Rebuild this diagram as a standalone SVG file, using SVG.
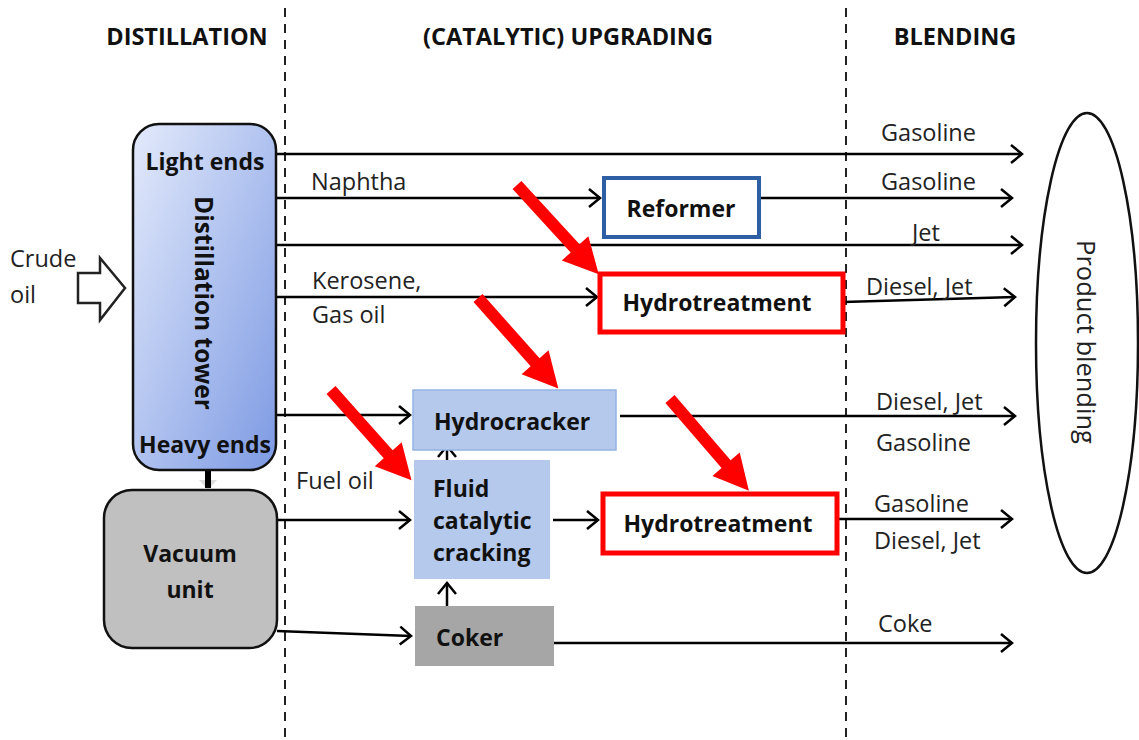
<svg xmlns="http://www.w3.org/2000/svg" width="1139" height="740" viewBox="0 0 1139 740">
<style>
.hdr{font-family:"Open Sans","Liberation Sans",sans-serif;font-weight:bold;font-size:23.5px;fill:#111;text-anchor:middle}
.b{font-family:"Open Sans","Liberation Sans",sans-serif;font-weight:bold;font-size:23px;fill:#111}
.r{font-family:"Open Sans","Liberation Sans",sans-serif;font-size:23.5px;fill:#222}
.ln{stroke:#000;stroke-width:2.5;fill:none;marker-end:url(#ah)}
.dash{stroke:#222;stroke-width:2;stroke-dasharray:9,7;fill:none}
</style>
<defs>
<marker id="ah" markerWidth="16" markerHeight="22" refX="13" refY="11" orient="auto" markerUnits="userSpaceOnUse">
<path d="M2,2 L13,11 L2,20" fill="none" stroke="#000" stroke-width="2.5"/>
</marker>
<linearGradient id="tg" x1="0" y1="0" x2="1" y2="1">
<stop offset="0" stop-color="#e3eafb"/>
<stop offset="1" stop-color="#7d9ae3"/>
</linearGradient>
<path id="ra" d="M0,-6 L86,-6 L86,-18 L121,0 L86,18 L86,6 L0,6 Z" fill="#ff0000"/>
</defs>
<rect width="1139" height="740" fill="#fff"/>
<g id="dividers">
<line class="dash" x1="285" y1="8" x2="285" y2="738"/>
<line class="dash" x1="846" y1="8" x2="846" y2="738"/>
</g>
<g id="headers">
<text class="hdr" x="187" y="45">DISTILLATION</text>
<text class="hdr" x="568" y="45">(CATALYTIC) UPGRADING</text>
<text class="hdr" x="955" y="45">BLENDING</text>
</g>
<g id="crude">
<text class="r" x="10" y="267">Crude</text>
<text class="r" x="10" y="303">oil</text>
<path d="M78,273 L100,273 L100,258 L125,288 L100,320 L100,303 L78,303 Z" fill="#fff" stroke="#222" stroke-width="2.5"/>
</g>
<g id="connectors">
<line class="ln" x1="276" y1="154" x2="1022" y2="154"/>
<line class="ln" x1="276" y1="198" x2="600" y2="198"/>
<line class="ln" x1="759" y1="198" x2="1012" y2="198"/>
<line class="ln" x1="276" y1="245" x2="1022" y2="245"/>
<line class="ln" x1="276" y1="297" x2="597" y2="297"/>
<line class="ln" x1="843" y1="302" x2="1015" y2="297"/>
<line class="ln" x1="276" y1="415" x2="410" y2="415"/>
<line class="ln" x1="620" y1="416" x2="1015" y2="416"/>
<line class="ln" x1="277" y1="520" x2="410" y2="520"/>
<line class="ln" x1="553" y1="520" x2="598" y2="520"/>
<line class="ln" x1="835" y1="519" x2="1012" y2="519"/>
<line class="ln" x1="277" y1="631" x2="411" y2="636"/>
<line class="ln" x1="554" y1="643" x2="1012" y2="643"/>
<line class="ln" x1="447" y1="460" x2="447" y2="446"/>
<line class="ln" x1="447" y1="606" x2="447" y2="583"/>
<path d="M199,480 L217,480 L208,490 Z" fill="#ddd"/>
<line x1="208" y1="470" x2="208" y2="488" stroke="#000" stroke-width="6"/>
</g>
<g id="labels">
<text class="r" x="881" y="141">Gasoline</text>
<text class="r" x="311" y="190">Naphtha</text>
<text class="r" x="881" y="190">Gasoline</text>
<text class="r" x="912" y="241">Jet</text>
<text class="r" x="312" y="289">Kerosene,</text>
<text class="r" x="312" y="323">Gas oil</text>
<text class="r" x="866" y="295">Diesel, Jet</text>
<text class="r" x="876" y="410">Diesel, Jet</text>
<text class="r" x="876" y="451">Gasoline</text>
<text class="r" x="296" y="489">Fuel oil</text>
<text class="r" x="874" y="512">Gasoline</text>
<text class="r" x="874" y="549">Diesel, Jet</text>
<text class="r" x="878" y="632">Coke</text>
</g>
<g id="tower">
<rect x="133" y="124" width="143" height="346" rx="26" fill="url(#tg)" stroke="#111" stroke-width="2.5"/>
<text class="b" x="205" y="170" text-anchor="middle">Light ends</text>
<text class="b" x="0" y="0" text-anchor="middle" transform="translate(195,303) rotate(90)" style="font-size:24.5px">Distillation tower</text>
<text class="b" x="205" y="453" text-anchor="middle">Heavy ends</text>
</g>
<g id="vacuum">
<rect x="104" y="490" width="173" height="158" rx="28" fill="#c0c0c0" stroke="#111" stroke-width="2.5"/>
<text class="b" x="190" y="562" text-anchor="middle">Vacuum</text>
<text class="b" x="190" y="598" text-anchor="middle">unit</text>
</g>
<g id="reformer">
<rect x="604" y="178" width="155" height="59" fill="#fff" stroke="#2e5fa5" stroke-width="4"/>
<text class="b" x="681" y="217" text-anchor="middle">Reformer</text>
</g>
<g id="hydrotreat1">
<rect x="600" y="274" width="243" height="58" fill="#fff" stroke="#ff0000" stroke-width="5"/>
<text class="b" x="717" y="311" text-anchor="middle">Hydrotreatment</text>
</g>
<g id="hydrocracker">
<rect x="413" y="390" width="203" height="60" fill="#b4c9ec" stroke="#94b3e3" stroke-width="1.5"/>
<text class="b" x="434" y="430">Hydrocracker</text>
</g>
<g id="fcc">
<rect x="414" y="460" width="136" height="119" fill="#b4c9ec"/>
<text class="b" x="433" y="497">Fluid</text>
<text class="b" x="433" y="529">catalytic</text>
<text class="b" x="433" y="561">cracking</text>
</g>
<g id="hydrotreat2">
<rect x="603" y="494" width="234" height="59" fill="#fff" stroke="#ff0000" stroke-width="5"/>
<text class="b" x="718" y="532" text-anchor="middle">Hydrotreatment</text>
</g>
<g id="coker">
<rect x="415" y="606" width="139" height="60" fill="#a6a6a6"/>
<text class="b" x="436" y="646">Coker</text>
</g>
<g id="blending">
<ellipse cx="1087" cy="343" rx="51" ry="230" fill="#fff" stroke="#111" stroke-width="2.5"/>
<text class="r" x="0" y="0" text-anchor="middle" transform="translate(1077,342) rotate(90)" style="font-size:25.5px">Product blending</text>
</g>
<g id="h2arrows">
<use href="#ra" transform="translate(517,185) rotate(47.5)"/>
<use href="#ra" transform="translate(478,298) rotate(48.4)"/>
<use href="#ra" transform="translate(331,390) rotate(48.3)"/>
<use href="#ra" transform="translate(670,399) rotate(49.3)"/>
</g>
</svg>
